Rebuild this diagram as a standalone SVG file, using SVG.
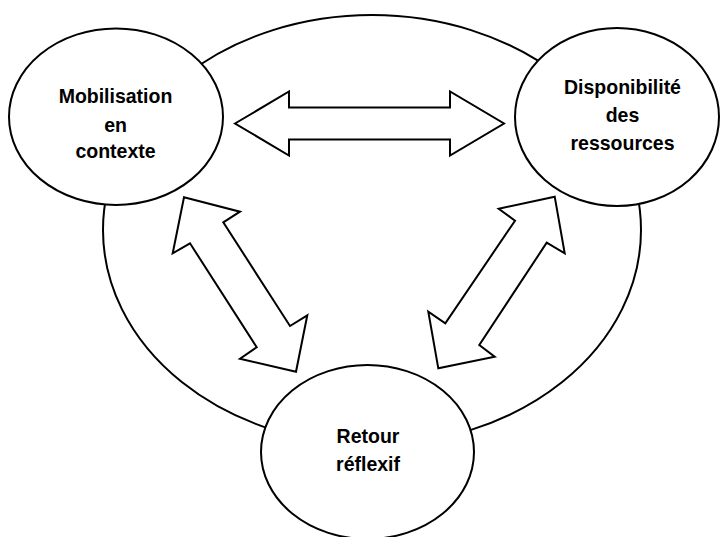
<svg xmlns="http://www.w3.org/2000/svg" width="720" height="537" viewBox="0 0 720 537">
<style>
.shape{fill:#fff;stroke:#000;stroke-width:2;stroke-linejoin:miter}
.ring{fill:none;stroke:#000;stroke-width:2}
.lbl{font-family:"Liberation Sans",Arial,sans-serif;font-weight:bold;font-size:19.5px;text-anchor:middle;fill:#000}
</style>
<rect width="720" height="537" fill="#fff"/>
<ellipse class="ring" cx="372" cy="230" rx="269" ry="215"/>
<g id="connectors">
<polygon class="shape" points="235,123.5 289,91.5 289,107.5 450,107.5 450,91.5 504,123.5 450,155.5 450,139.5 289,139.5 289,155.5"/>
<polygon class="shape" points="184,197.3 240,211.7 223.3,222.3 290,326 307.3,315.3 296,371.7 240,358.7 256.7,347.3 190,243.3 172.7,253.3"/>
<polygon class="shape" points="554.7,196.7 564.7,253.3 546.7,242.7 479.3,345 494.7,356.7 438.3,368.3 428.3,311.7 445.3,323.3 515,220.7 498.7,208.7"/>
</g>
<g id="mobilisation">
<ellipse class="shape" cx="116" cy="116.7" rx="107" ry="88.3"/>
<text class="lbl" transform="translate(115.5,103.3) scale(1,1.08)">Mobilisation</text>
<text class="lbl" transform="translate(115.5,131.7) scale(1,1.08)">en</text>
<text class="lbl" transform="translate(115.5,158.3) scale(1,1.08)">contexte</text>
</g>
<g id="disponibilite">
<ellipse class="shape" cx="617" cy="117" rx="102" ry="89"/>
<text class="lbl" transform="translate(622.5,94.3) scale(1,1.08)">Disponibilité</text>
<text class="lbl" transform="translate(622.5,122.3) scale(1,1.08)">des</text>
<text class="lbl" transform="translate(622.5,150) scale(1,1.08)">ressources</text>
</g>
<g id="retour">
<ellipse class="shape" cx="367.5" cy="452" rx="106.5" ry="87"/>
<text class="lbl" transform="translate(368,443) scale(1,1.08)">Retour</text>
<text class="lbl" transform="translate(368,470.7) scale(1,1.08)">réflexif</text>
</g>
</svg>
